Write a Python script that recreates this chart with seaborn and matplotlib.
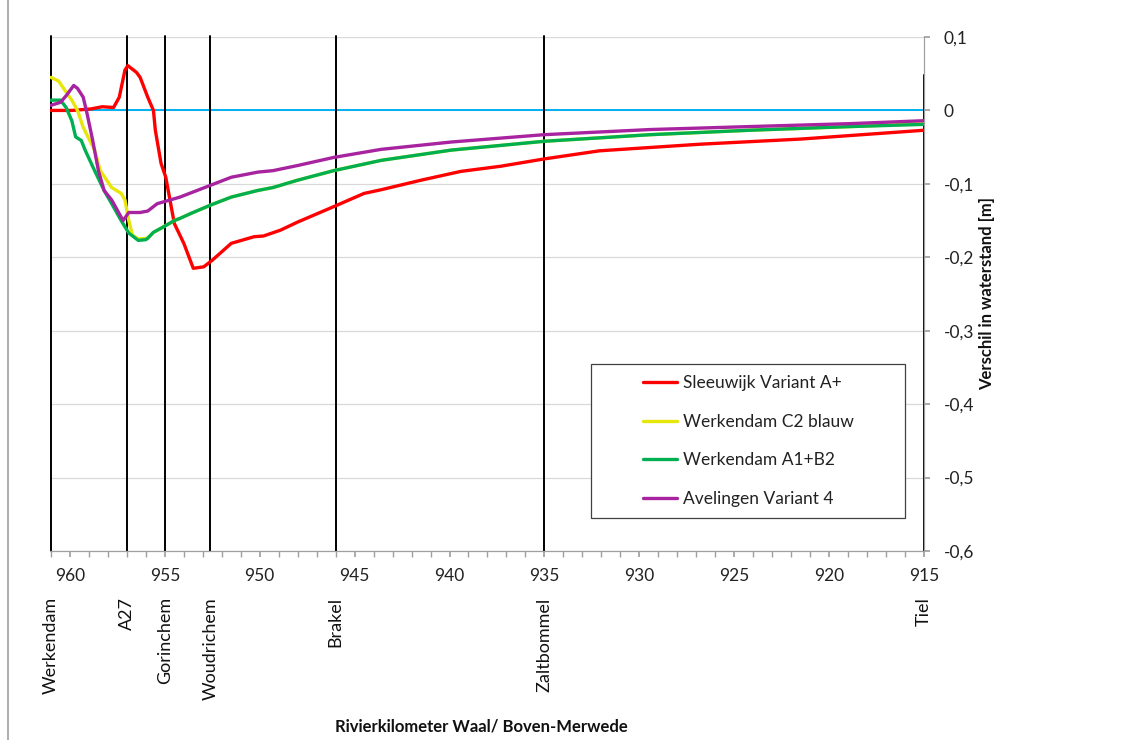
import numpy as np
import pandas as pd
import matplotlib
matplotlib.use("Agg")
import matplotlib.pyplot as plt
import matplotlib.transforms as mtransforms
from matplotlib.patches import Rectangle
from matplotlib.lines import Line2D
import seaborn as sns

# ---------------- data ----------------
series_names = ["Sleeuwijk Variant A+", "Werkendam C2 blauw",
                "Werkendam A1+B2", "Avelingen Variant 4"]

red_km = [961.0, 959.9, 958.9, 958.3, 957.7, 957.4, 957.1, 956.95, 956.5, 956.3,
          955.9, 955.6, 955.5, 955.2, 954.95, 954.5, 954.0, 953.5, 952.95, 952.5,
          951.5, 950.3, 949.8, 948.9, 948.0, 946.1, 944.5, 943.6, 941.5, 939.4,
          937.3, 935.0, 932.1, 926.8, 921.5, 915.0]
red_val = [0.0, 0.0, 0.002, 0.005, 0.004, 0.018, 0.055, 0.061, 0.052, 0.045,
           0.018, 0.0, -0.027, -0.072, -0.091, -0.154, -0.181, -0.215, -0.213, -0.204,
           -0.181, -0.172, -0.171, -0.163, -0.152, -0.131, -0.113, -0.108, -0.095, -0.083,
           -0.076, -0.066, -0.055, -0.046, -0.039, -0.027]

yel_km = [961.0, 960.6, 960.2, 959.9, 959.6, 959.3, 958.7, 958.4, 957.8, 957.3,
          957.1, 956.9, 956.7, 956.4, 955.9, 955.6, 955.1, 954.5, 954.2, 953.6,
          952.6, 951.5, 950.1, 949.3, 948.0, 946.1, 943.6, 939.9, 935.0, 929.4,
          924.2, 918.9, 915.0]
yel_val = [0.045, 0.040, 0.025, 0.014, 0.0, -0.023, -0.054, -0.082, -0.105, -0.113,
           -0.122, -0.150, -0.170, -0.175, -0.174, -0.166, -0.159, -0.150, -0.147, -0.140,
           -0.129, -0.118, -0.109, -0.105, -0.095, -0.082, -0.068, -0.054, -0.042, -0.033,
           -0.027, -0.022, -0.018]

grn_km = [961.0, 960.5, 960.2, 959.9, 959.7, 959.4, 959.2, 958.7, 958.2, 957.8,
          957.3, 956.9, 956.4, 956.0, 955.9, 955.6, 955.1, 954.5, 954.2, 953.6,
          952.6, 951.5, 950.1, 949.3, 948.0, 946.1, 943.6, 939.9, 935.0, 929.4,
          924.2, 918.9, 915.0]
grn_val = [0.014, 0.014, 0.004, -0.014, -0.036, -0.041, -0.054, -0.082, -0.109, -0.127,
           -0.150, -0.167, -0.177, -0.176, -0.174, -0.166, -0.159, -0.150, -0.147, -0.140,
           -0.129, -0.118, -0.109, -0.105, -0.095, -0.082, -0.068, -0.054, -0.042, -0.033,
           -0.027, -0.022, -0.019]

pur_km = [961.0, 960.5, 960.2, 959.8, 959.6, 959.3, 959.1, 958.8, 958.5, 958.2,
          957.8, 957.5, 957.2, 956.9, 956.3, 955.9, 955.4, 954.2, 952.6, 951.5,
          950.1, 949.3, 948.0, 946.1, 943.6, 939.9, 935.0, 929.4, 924.2, 918.9, 915.0]
pur_val = [0.007, 0.011, 0.020, 0.034, 0.030, 0.018, -0.004, -0.041, -0.082, -0.109,
           -0.122, -0.136, -0.150, -0.139, -0.139, -0.137, -0.127, -0.118, -0.102, -0.091,
           -0.084, -0.082, -0.075, -0.064, -0.053, -0.043, -0.033, -0.026, -0.022, -0.018, -0.014]

location_names = ["Werkendam", "A27", "Gorinchem", "Woudrichem", "Brakel", "Zaltbommel", "Tiel"]
location_km = [961.0, 957.0, 955.0, 952.6, 946.0, 935.0, 915.0]

y_ticks = [0.1, 0.0, -0.1, -0.2, -0.3, -0.4, -0.5, -0.6]
y_ticklabels = ["0,1", "0", "-0,1", "-0,2", "-0,3", "-0,4", "-0,5", "-0,6"]
x_ticks = [960, 955, 950, 945, 940, 935, 930, 925, 920, 915]
x_ticklabels = ["960", "955", "950", "945", "940", "935", "930", "925", "920", "915"]

x_label = "Rivierkilometer Waal/ Boven-Merwede"
y_label = "Verschil in waterstand [m]"

colors = ["#FF0000", "#E6E60A", "#00B050", "#A8239F"]

# ---------------- build frame ----------------
frames = []
for name, km, val in zip(series_names,
                         [red_km, yel_km, grn_km, pur_km],
                         [red_val, yel_val, grn_val, pur_val]):
    frames.append(pd.DataFrame({"km": km, "val": val, "series": name}))
df = pd.concat(frames, ignore_index=True)

# ---------------- plot ----------------
sns.set_theme(style="white")
plt.rcParams["font.family"] = ["Lato", "DejaVu Sans"]

FS = 12.5

fig = plt.figure(figsize=(11.39, 7.40), dpi=100)
ax = fig.add_axes([50 / 1139, 1 - 551 / 740, 874 / 1139, 514 / 740])

sns.lineplot(data=df, x="km", y="val", hue="series", hue_order=series_names,
             palette=colors, estimator=None, sort=False, linewidth=2.4,
             ax=ax, legend=False, zorder=3)

ax.set_xlim(961.05, 915)
ax.set_ylim(-0.6, 0.1)

# grid
for yv in y_ticks:
    ax.axhline(yv, color="#D9D9D9", lw=0.9, zorder=0)
ax.axhline(0, color="#00B0F0", lw=1.4, zorder=2)

# location lines
for name, km in zip(location_names, location_km):
    top = 0.102 if name != "Tiel" else 0.048
    ax.plot([km, km], [-0.6, top], color="black", lw=1.4, zorder=2.5, clip_on=False)

# location labels
trans = mtransforms.blended_transform_factory(ax.transData, ax.transAxes)
for name, km in zip(location_names, location_km):
    ax.text(km, -0.090, name, transform=trans, rotation=90, ha="center", va="top",
            fontsize=13, color="#111111")

# ticks
ax.yaxis.tick_right()
ax.set_yticks(y_ticks)
ax.set_yticklabels(y_ticklabels)
ax.set_xticks(x_ticks)
ax.set_xticklabels(x_ticklabels)
ax.set_xticks(np.arange(915, 962, 1), minor=True)
ax.tick_params(axis="y", which="both", direction="out", length=4, color="#A0A0A0",
               labelsize=FS, labelcolor="#222222", pad=10, right=True, left=False)
ax.tick_params(axis="x", which="both", direction="out", length=4, color="#A0A0A0",
               labelsize=FS, labelcolor="#222222", pad=8, bottom=True)
ax.set_xlabel("")
ax.set_ylabel("")

for s in ["top", "left"]:
    ax.spines[s].set_visible(False)
for s in ["bottom", "right"]:
    ax.spines[s].set_color("#A0A0A0")
    ax.spines[s].set_linewidth(0.9)

# legend box
bx0, by0 = (591 - 50) / 874, (551 - 518) / 514
bw, bh = (905 - 591) / 874, (518 - 364) / 514
ax.add_patch(Rectangle((bx0, by0), bw, bh, transform=ax.transAxes,
                       facecolor="white", edgecolor="#404040", lw=0.9, zorder=4))
handles = [Line2D([0], [0], color=c, lw=2.4) for c in colors]
leg = ax.legend(handles, series_names, loc="center",
                bbox_to_anchor=(bx0, by0, bw, bh), bbox_transform=ax.transAxes,
                frameon=False, fontsize=FS, handlelength=2.0, handletextpad=0.3,
                labelspacing=1.3)
leg.set_zorder(5)
for t in leg.get_texts():
    t.set_color("#222222")

# axis titles
fig.text(987 / 1139, 1 - 294 / 740, y_label, rotation=90, ha="center", va="center",
         fontsize=12, fontweight="bold", color="#111111")
fig.text(481 / 1139, 1 - 726 / 740, x_label, ha="center", va="center",
         fontsize=12, fontweight="bold", color="#111111")

# outer chart border on the left
fig.add_artist(Line2D([8 / 1139, 8 / 1139], [0, 1], color="#A0A0A0", lw=1.2))

fig.savefig("out.png", dpi=100)
